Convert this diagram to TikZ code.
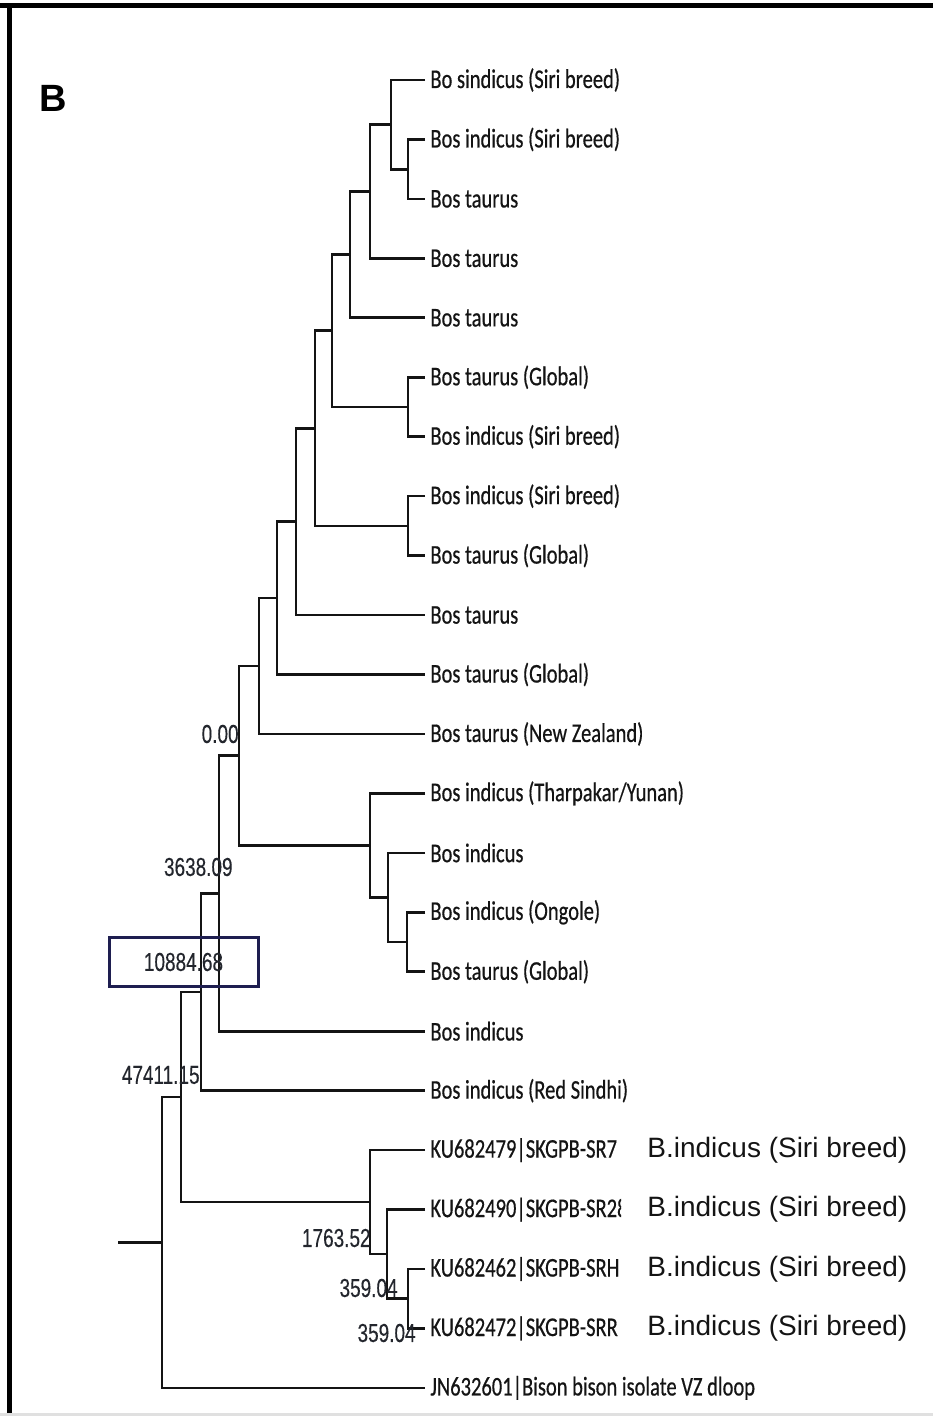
\documentclass[tikz,border=0pt]{standalone}
\usepackage{fontspec}
\usepackage{graphicx}
\newfontfamily\leaffont[FakeBold=0.6]{Carlito}
\newfontfamily\sansfont{Liberation Sans}
\newfontfamily\numfont[FakeBold=0.3]{Liberation Sans}
% condensed taxon names and support values
\newcommand{\taxon}[1]{\scalebox{0.76}[1]{#1}}
\newcommand{\support}[1]{\scalebox{0.73}[1]{#1}}
\definecolor{boxnavy}{RGB}{30,30,80}
\definecolor{ink}{RGB}{20,20,20}
\definecolor{numink}{RGB}{35,38,45}

\begin{document}
\begin{tikzpicture}[x=0.5pt,y=-0.5pt,
  branch/.style={draw=ink, line width=1.35pt, line join=miter},
  taxonlabel/.style={anchor=west, inner xsep=2.5pt, inner ysep=0pt,
    font=\leaffont\fontsize{13.5}{14}\selectfont, text=ink},
  supportlabel/.style={anchor=east, inner sep=0pt,
    font=\numfont\fontsize{13}{14}\selectfont, text=numink},
  breedlabel/.style={anchor=west, inner sep=0pt,
    font=\sansfont\fontsize{14}{16}\selectfont, text=ink},
]
\useasboundingbox (0,0) rectangle (933,1416);

% frame
\fill[black] (0,3) rectangle (933,8);
\fill[black] (7,3) rectangle (12,1416);
\fill[black!12] (0,1413) rectangle (933,1416);

% panel letter
\node[font=\sansfont\bfseries\fontsize{19}{22}\selectfont, inner sep=0pt] (panel) at (53,98.5) {B};

% taxa
\node[taxonlabel] (t1)  at (425,80)      {\taxon{Bo sindicus (Siri breed)}};
\node[taxonlabel] (t2)  at (425,139.45)  {\taxon{Bos indicus (Siri breed)}};
\node[taxonlabel] (t3)  at (425,198.9)   {\taxon{Bos taurus}};
\node[taxonlabel] (t4)  at (425,258.35)  {\taxon{Bos taurus}};
\node[taxonlabel] (t5)  at (425,317.8)   {\taxon{Bos taurus}};
\node[taxonlabel] (t6)  at (425,377.25)  {\taxon{Bos taurus (Global)}};
\node[taxonlabel] (t7)  at (425,436.7)   {\taxon{Bos indicus (Siri breed)}};
\node[taxonlabel] (t8)  at (425,496.15)  {\taxon{Bos indicus (Siri breed)}};
\node[taxonlabel] (t9)  at (425,555.6)   {\taxon{Bos taurus (Global)}};
\node[taxonlabel] (t10) at (425,615.05)  {\taxon{Bos taurus}};
\node[taxonlabel] (t11) at (425,674.5)   {\taxon{Bos taurus (Global)}};
\node[taxonlabel] (t12) at (425,733.95)  {\taxon{Bos taurus (New Zealand)}};
\node[taxonlabel] (t13) at (425,793.4)   {\taxon{Bos indicus (Tharpakar/Yunan)}};
\node[taxonlabel] (t14) at (425,852.85)  {\taxon{Bos indicus}};
\node[taxonlabel] (t15) at (425,912.3)   {\taxon{Bos indicus (Ongole)}};
\node[taxonlabel] (t16) at (425,971.75)  {\taxon{Bos taurus (Global)}};
\node[taxonlabel] (t17) at (425,1031.2)  {\taxon{Bos indicus}};
\node[taxonlabel] (t18) at (425,1090.65) {\taxon{Bos indicus (Red Sindhi)}};
\node[taxonlabel] (t19) at (425,1150.1)  {\taxon{KU682479|SKGPB-SR7}};
\begin{scope}
  \clip (420,1180) rectangle (621,1240);
  \node[taxonlabel] (t20) at (425,1209.55) {\taxon{KU682490|SKGPB-SR28}};
\end{scope}
\node[taxonlabel] (t21) at (425,1269)    {\taxon{KU682462|SKGPB-SRH}};
\node[taxonlabel] (t22) at (425,1328.45) {\taxon{KU682472|SKGPB-SRR}};
\node[taxonlabel] (t23) at (425,1387.9)  {\taxon{JN632601|Bison bison isolate VZ dloop}};

% breed annotations
\node[breedlabel] (b19) at (647,1150.1)  {B.indicus (Siri breed)};
\node[breedlabel] (b20) at (647,1209.55) {B.indicus (Siri breed)};
\node[breedlabel] (b21) at (647,1269)    {B.indicus (Siri breed)};
\node[breedlabel] (b22) at (647,1328.45) {B.indicus (Siri breed)};

% internal nodes
\coordinate (AA)   at (408,169.2);
\coordinate (A)    at (391,124.6);
\coordinate (B)    at (370,191.5);
\coordinate (C)    at (350,254.6);
\coordinate (DD)   at (408,407);
\coordinate (D)    at (332,330.8);
\coordinate (EE)   at (408,525.9);
\coordinate (E)    at (315,428.3);
\coordinate (F)    at (296,521.7);
\coordinate (G)    at (277,598.1);
\coordinate (H)    at (259,666);
\coordinate (L)    at (407,942);
\coordinate (K)    at (388,897.4);
\coordinate (J)    at (370,845.4);
\coordinate (I)    at (239,755.7);
\coordinate (M)    at (219,893.5);
\coordinate (N)    at (201,992.1);
\coordinate (R)    at (408,1298.7);
\coordinate (Q)    at (387,1254.1);
\coordinate (P)    at (370,1202.1);
\coordinate (O)    at (181,1097.1);
\coordinate (root) at (162,1242.5);
\coordinate (stub) at (118,1242.5);

% branches
\draw[branch] (t2.west) -| (AA) |- (t3.west);
\draw[branch] (t1.west) -| (A) |- (AA);
\draw[branch] (A) -| (B) |- (t4.west);
\draw[branch] (B) -| (C) |- (t5.west);
\draw[branch] (t6.west) -| (DD) |- (t7.west);
\draw[branch] (C) -| (D) |- (DD);
\draw[branch] (t8.west) -| (EE) |- (t9.west);
\draw[branch] (D) -| (E) |- (EE);
\draw[branch] (E) -| (F) |- (t10.west);
\draw[branch] (F) -| (G) |- (t11.west);
\draw[branch] (G) -| (H) |- (t12.west);
\draw[branch] (t15.west) -| (L) |- (t16.west);
\draw[branch] (t14.west) -| (K) |- (L);
\draw[branch] (t13.west) -| (J) |- (K);
\draw[branch] (H) -| (I) |- (J);
\draw[branch] (I) -| (M) |- (t17.west);
\draw[branch] (M) -| (N) |- (t18.west);
\draw[branch] (t21.west) -| (R) |- (t22.west);
\draw[branch] (t20.west) -| (Q) |- (R);
\draw[branch] (t19.west) -| (P) |- (Q);
\draw[branch] (N) -| (O) |- (P);
\draw[branch] (O) -| (root) |- (t23.west);
\draw[branch] (stub) -- (root);

% support values
\node[supportlabel] (s1) at (239,734)  {\support{0.00}};
\node[supportlabel] (s2) at (233,867)  {\support{3638.09}};
\node[draw=boxnavy, line width=1.5pt, minimum width=74.5pt, minimum height=24.5pt,
      inner sep=0pt, font=\numfont\fontsize{13}{14}\selectfont, text=numink]
      (s3) at (183.5,962) {\support{10884.68}};
\node[supportlabel] (s4) at (200,1075) {\support{47411.15}};
\node[supportlabel] (s5) at (371,1238) {\support{1763.52}};
\node[supportlabel] (s6) at (398,1288) {\support{359.04}};
\node[supportlabel] (s7) at (416,1333) {\support{359.04}};
\end{tikzpicture}
\end{document}
